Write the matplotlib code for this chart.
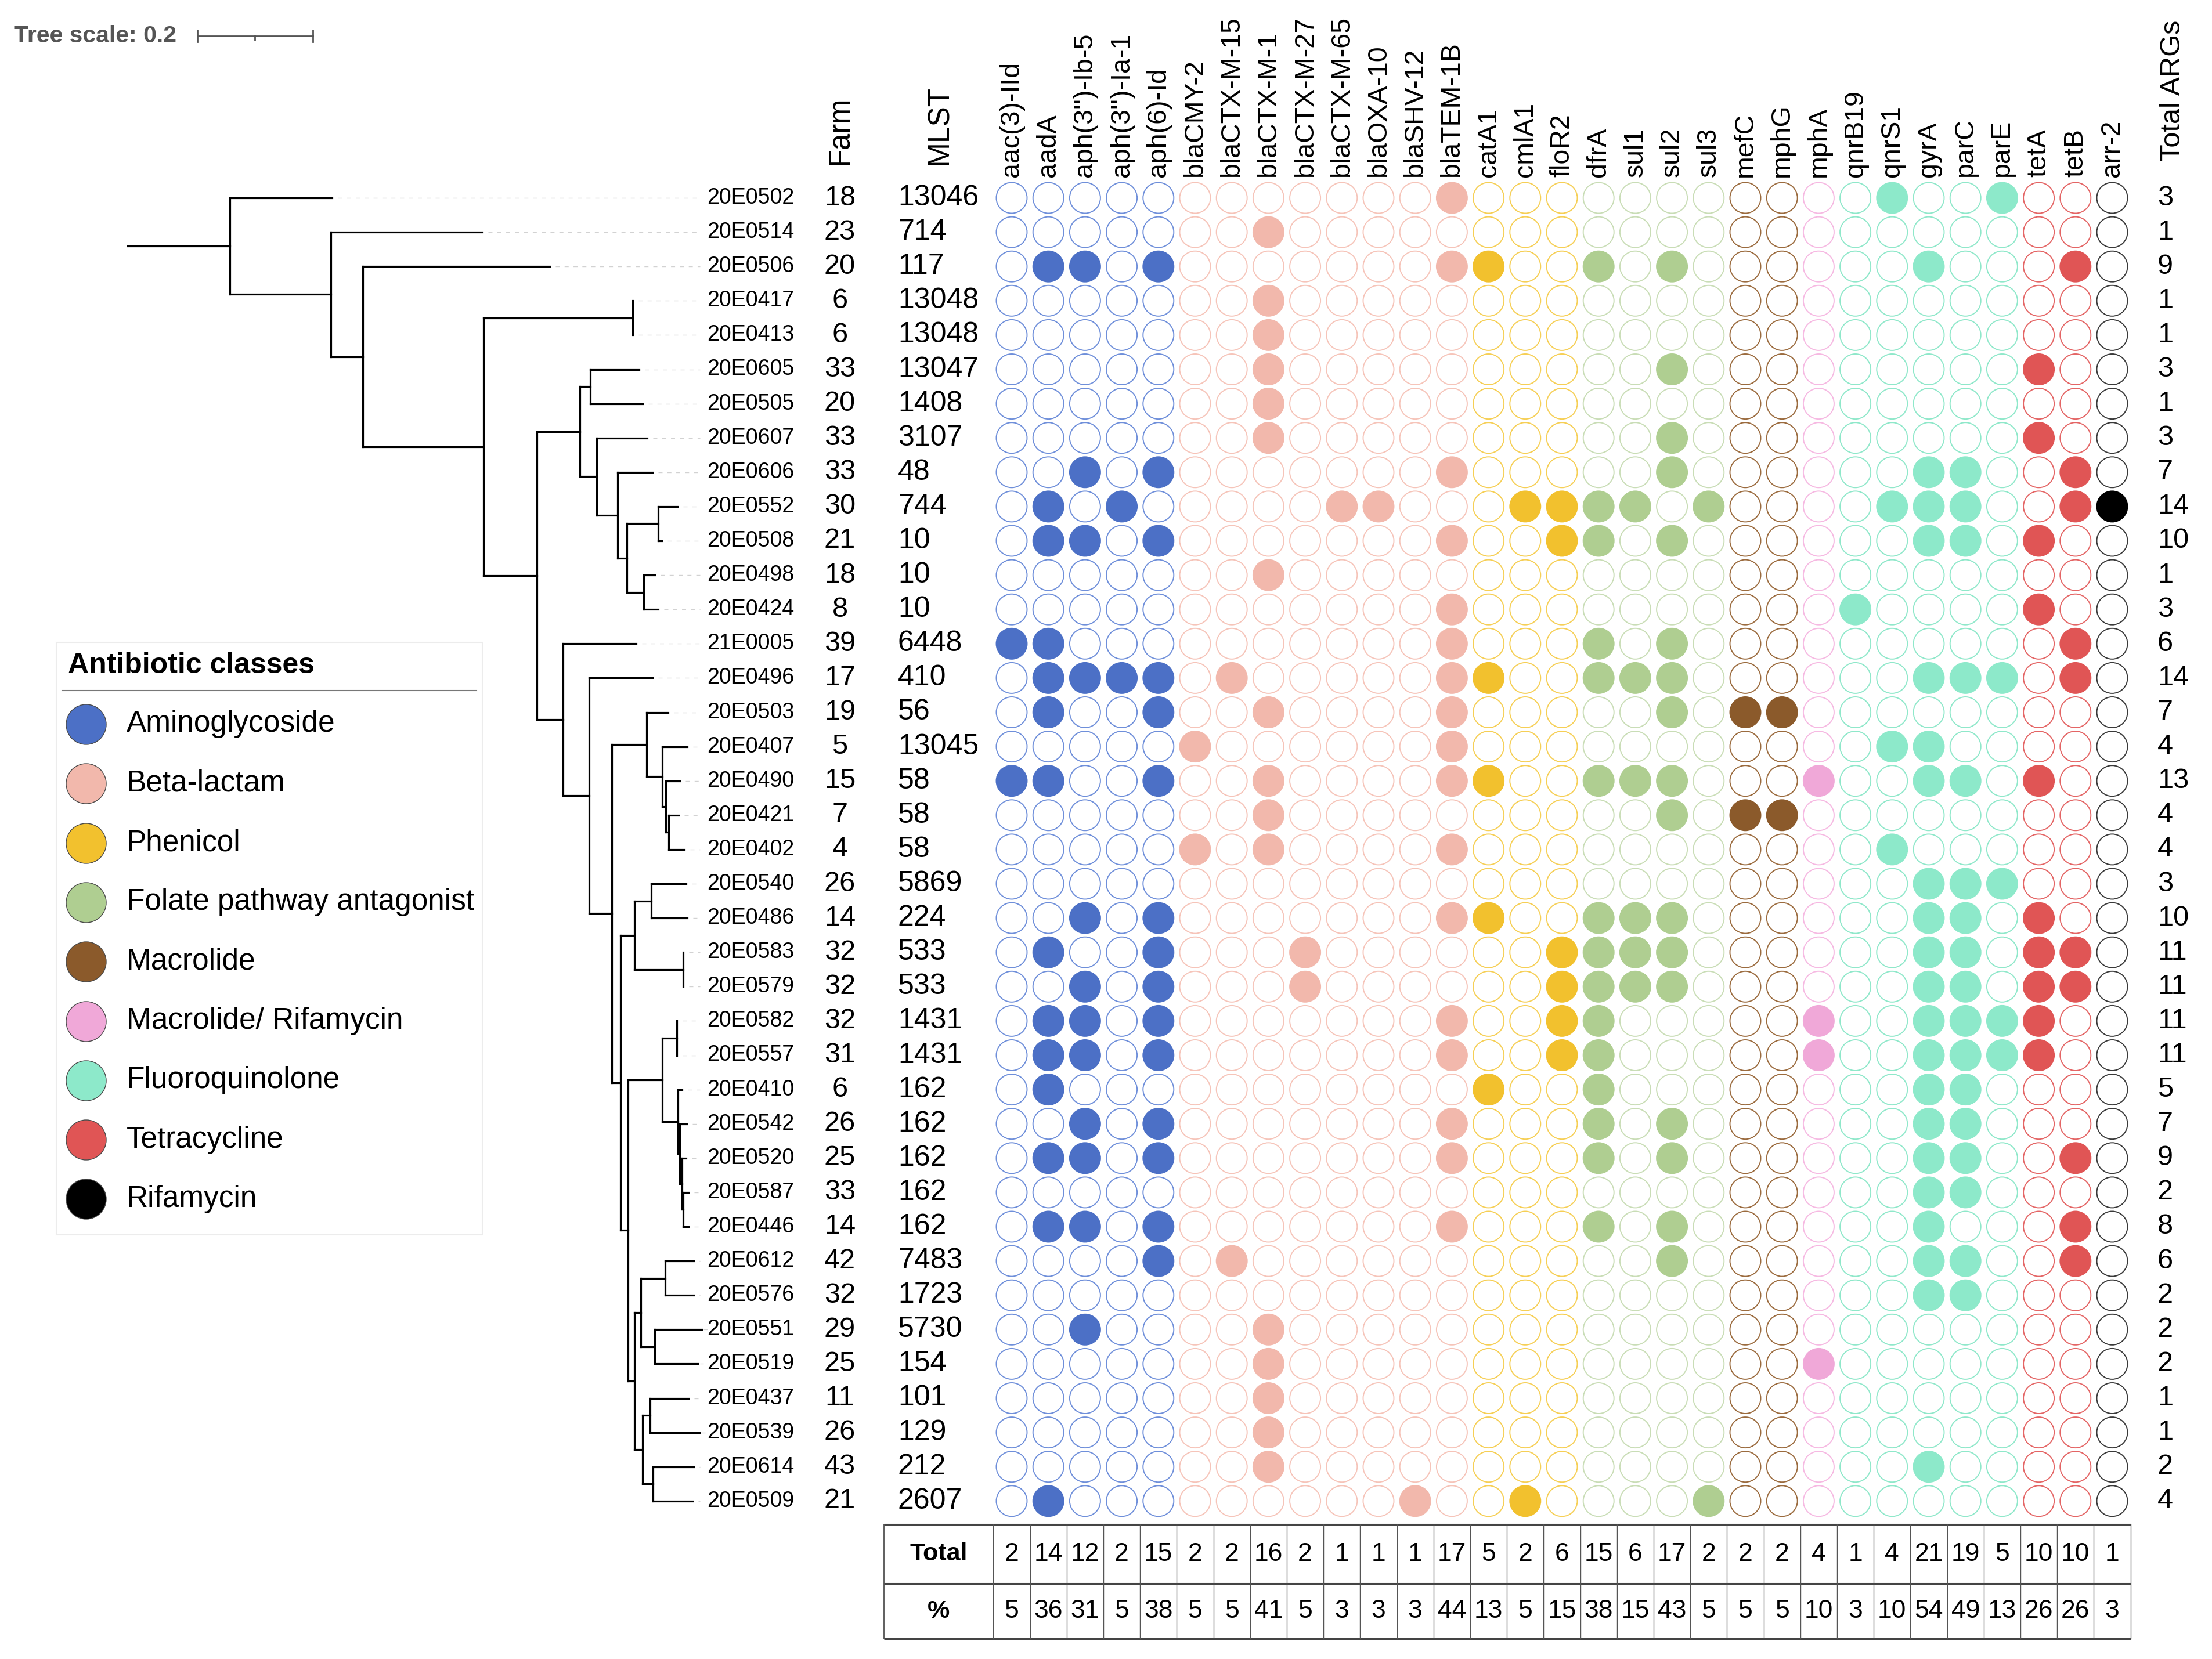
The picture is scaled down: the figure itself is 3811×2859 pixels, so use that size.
import matplotlib
matplotlib.use("Agg")
import matplotlib.pyplot as plt
from matplotlib.collections import LineCollection
from matplotlib.patches import Rectangle

# ---------------- data ----------------
tree_newick = (
    "(20E0502:0.1769,(20E0514:0.2623,(20E0506:0.3236,((20E0417:0,20E0413:0):0.2583,"
    "(((20E0605:0.0844,20E0505:0.0905):0.0181,(20E0607:0.0874,(20E0606:0.0603,"
    "((20E0552:0.0332,20E0508:0.0060):0.0543,(20E0498:0.0191,20E0424:0.0251):0.0291)"
    ":0.0161):0.0362):0.0291):0.0744,(21E0005:0.1266,(20E0496:0.1095,((20E0503:0.0372,"
    "(20E0407:0.0432,(20E0490:0.0241,(20E0421:0.0171,20E0402:0.0271):0.0050):0.0060)"
    ":0.0271):0.0603,(((20E0540:0.0603,20E0486:0.0623):0.0291,(20E0583:0,20E0579:0)"
    ":0.0844):0.0241,(((20E0582:0,20E0557:0):0.0251,(20E0410:0.0070,(20E0542:0.0121,"
    "(20E0520:0.0070,(20E0587:0.0090,20E0446:0.0090):0.0020):0.0040):0.0030):0.0271)"
    ":0.0593,(((20E0612:0.0492,20E0576:0.0492):0.0422,(20E0551:0.0814,20E0519:0.0744)"
    ":0.0241):0.0111,((20E0437:0.0663,20E0539:0.0854):0.0131,(20E0614:0.0704,"
    "20E0509:0.0683):0.0181):0.0141):0.0111):0.0131):0.0151):0.0392):0.0452):0.0452)"
    ":0.0925):0.2090):0.0553):0.1749):0.1769;"
)

strains = ["20E0502", "20E0514", "20E0506", "20E0417", "20E0413", "20E0605", "20E0505",
           "20E0607", "20E0606", "20E0552", "20E0508", "20E0498", "20E0424", "21E0005",
           "20E0496", "20E0503", "20E0407", "20E0490", "20E0421", "20E0402", "20E0540",
           "20E0486", "20E0583", "20E0579", "20E0582", "20E0557", "20E0410", "20E0542",
           "20E0520", "20E0587", "20E0446", "20E0612", "20E0576", "20E0551", "20E0519",
           "20E0437", "20E0539", "20E0614", "20E0509"]
farms = [18, 23, 20, 6, 6, 33, 20, 33, 33, 30, 21, 18, 8, 39, 17, 19, 5, 15, 7, 4,
         26, 14, 32, 32, 32, 31, 6, 26, 25, 33, 14, 42, 32, 29, 25, 11, 26, 43, 21]
mlst = [13046, 714, 117, 13048, 13048, 13047, 1408, 3107, 48, 744, 10, 10, 10, 6448,
        410, 56, 13045, 58, 58, 58, 5869, 224, 533, 533, 1431, 1431, 162, 162, 162,
        162, 162, 7483, 1723, 5730, 154, 101, 129, 212, 2607]
total_args = [3, 1, 9, 1, 1, 3, 1, 3, 7, 14, 10, 1, 3, 6, 14, 7, 4, 13, 4, 4,
              3, 10, 11, 11, 11, 11, 5, 7, 9, 2, 8, 6, 2, 2, 2, 1, 1, 2, 4]

genes = ["aac(3)-IId", "aadA", "aph(3'')-Ib-5", "aph(3'')-Ia-1", "aph(6)-Id",
         "blaCMY-2", "blaCTX-M-15", "blaCTX-M-1", "blaCTX-M-27", "blaCTX-M-65",
         "blaOXA-10", "blaSHV-12", "blaTEM-1B", "catA1", "cmlA1", "floR2",
         "dfrA", "sul1", "sul2", "sul3", "mefC", "mphG", "mphA", "qnrB19", "qnrS1",
         "gyrA", "parC", "parE", "tetA", "tetB", "arr-2"]
gene_class = [0] * 5 + [1] * 8 + [2] * 3 + [3] * 4 + [4] * 2 + [5] + [6] * 5 + [7] * 2 + [8]

classes = ["Aminoglycoside", "Beta-lactam", "Phenicol", "Folate pathway antagonist",
           "Macrolide", "Macrolide/ Rifamycin", "Fluoroquinolone", "Tetracycline",
           "Rifamycin"]
class_fill = ["#4C70C6", "#F2B8AC", "#F2C12E", "#AFCE91", "#8B5A2B",
              "#F0A8D8", "#8DE9CA", "#E05555", "#000000"]
class_edge = ["#6F8FDA", "#F6C4B9", "#F6CF55", "#C9DDB6", "#9B6B3E",
              "#F6B9E2", "#8FE8CA", "#E46565", "#3A3A3A"]

present = {
    "20E0502": ["blaTEM-1B", "qnrS1", "parE"],
    "20E0514": ["blaCTX-M-1"],
    "20E0506": ["aadA", "aph(3'')-Ib-5", "aph(6)-Id", "blaTEM-1B", "catA1", "dfrA", "sul2", "gyrA", "tetB"],
    "20E0417": ["blaCTX-M-1"],
    "20E0413": ["blaCTX-M-1"],
    "20E0605": ["blaCTX-M-1", "sul2", "tetA"],
    "20E0505": ["blaCTX-M-1"],
    "20E0607": ["blaCTX-M-1", "sul2", "tetA"],
    "20E0606": ["aph(3'')-Ib-5", "aph(6)-Id", "blaTEM-1B", "sul2", "gyrA", "parC", "tetB"],
    "20E0552": ["aadA", "aph(3'')-Ia-1", "blaCTX-M-65", "blaOXA-10", "cmlA1", "floR2", "dfrA",
                "sul1", "sul3", "qnrS1", "gyrA", "parC", "tetB", "arr-2"],
    "20E0508": ["aadA", "aph(3'')-Ib-5", "aph(6)-Id", "blaTEM-1B", "floR2", "dfrA", "sul2",
                "gyrA", "parC", "tetA"],
    "20E0498": ["blaCTX-M-1"],
    "20E0424": ["blaTEM-1B", "qnrB19", "tetA"],
    "21E0005": ["aac(3)-IId", "aadA", "blaTEM-1B", "dfrA", "sul2", "tetB"],
    "20E0496": ["aadA", "aph(3'')-Ib-5", "aph(3'')-Ia-1", "aph(6)-Id", "blaCTX-M-15", "blaTEM-1B",
                "catA1", "dfrA", "sul1", "sul2", "gyrA", "parC", "parE", "tetB"],
    "20E0503": ["aadA", "aph(6)-Id", "blaCTX-M-1", "blaTEM-1B", "sul2", "mefC", "mphG"],
    "20E0407": ["blaCMY-2", "blaTEM-1B", "qnrS1", "gyrA"],
    "20E0490": ["aac(3)-IId", "aadA", "aph(6)-Id", "blaCTX-M-1", "blaTEM-1B", "catA1", "dfrA",
                "sul1", "sul2", "mphA", "gyrA", "parC", "tetA"],
    "20E0421": ["blaCTX-M-1", "sul2", "mefC", "mphG"],
    "20E0402": ["blaCMY-2", "blaCTX-M-1", "blaTEM-1B", "qnrS1"],
    "20E0540": ["gyrA", "parC", "parE"],
    "20E0486": ["aph(3'')-Ib-5", "aph(6)-Id", "blaTEM-1B", "catA1", "dfrA", "sul1", "sul2",
                "gyrA", "parC", "tetA"],
    "20E0583": ["aadA", "aph(6)-Id", "blaCTX-M-27", "floR2", "dfrA", "sul1", "sul2", "gyrA",
                "parC", "tetA", "tetB"],
    "20E0579": ["aph(3'')-Ib-5", "aph(6)-Id", "blaCTX-M-27", "floR2", "dfrA", "sul1", "sul2",
                "gyrA", "parC", "tetA", "tetB"],
    "20E0582": ["aadA", "aph(3'')-Ib-5", "aph(6)-Id", "blaTEM-1B", "floR2", "dfrA", "mphA",
                "gyrA", "parC", "parE", "tetA"],
    "20E0557": ["aadA", "aph(3'')-Ib-5", "aph(6)-Id", "blaTEM-1B", "floR2", "dfrA", "mphA",
                "gyrA", "parC", "parE", "tetA"],
    "20E0410": ["aadA", "catA1", "dfrA", "gyrA", "parC"],
    "20E0542": ["aph(3'')-Ib-5", "aph(6)-Id", "blaTEM-1B", "dfrA", "sul2", "gyrA", "parC"],
    "20E0520": ["aadA", "aph(3'')-Ib-5", "aph(6)-Id", "blaTEM-1B", "dfrA", "sul2", "gyrA",
                "parC", "tetB"],
    "20E0587": ["gyrA", "parC"],
    "20E0446": ["aadA", "aph(3'')-Ib-5", "aph(6)-Id", "blaTEM-1B", "dfrA", "sul2", "gyrA", "tetB"],
    "20E0612": ["aph(6)-Id", "blaCTX-M-15", "sul2", "gyrA", "parC", "tetB"],
    "20E0576": ["gyrA", "parC"],
    "20E0551": ["aph(3'')-Ib-5", "blaCTX-M-1"],
    "20E0519": ["blaCTX-M-1", "mphA"],
    "20E0437": ["blaCTX-M-1"],
    "20E0539": ["blaCTX-M-1"],
    "20E0614": ["blaCTX-M-1", "gyrA"],
    "20E0509": ["aadA", "blaSHV-12", "cmlA1", "sul3"],
}

col_totals = [2, 14, 12, 2, 15, 2, 2, 16, 2, 1, 1, 1, 17, 5, 2, 6, 15, 6, 17, 2, 2, 2,
              4, 1, 4, 21, 19, 5, 10, 10, 1]
col_pct = [5, 36, 31, 5, 38, 5, 5, 41, 5, 3, 3, 3, 44, 13, 5, 15, 38, 15, 43, 5, 5, 5,
           10, 3, 10, 54, 49, 13, 26, 26, 3]
tree_scale = 0.2

# ---------------- layout (pixels) ----------------
W, H = 3812, 2859
ROW0, DROW = 341, 59.1
COL0, DCOL = 1743, 63.2
TREE_X0, PX_PER_UNIT = 220, 995
DOT = 53 * 0.72  # marker diameter in points
SANS = ["Liberation Sans", "DejaVu Sans"]
NARROW = ["Liberation Sans Narrow", "Liberation Sans", "DejaVu Sans"]


def parse_newick(s):
    pos = 0

    def node():
        nonlocal pos
        children = []
        if s[pos] == "(":
            pos += 1
            while True:
                children.append(node())
                if s[pos] == ",":
                    pos += 1
                else:
                    pos += 1  # ')'
                    break
        start = pos
        while s[pos] not in ":,);":
            pos += 1
        name = s[start:pos]
        length = 0.0
        if s[pos] == ":":
            pos += 1
            start = pos
            while s[pos] not in ",);":
                pos += 1
            length = float(s[start:pos])
        return {"name": name, "len": length, "children": children}

    return node()


root = parse_newick(tree_newick)
leaf_order = []


def layout(nd, parent_x):
    nd["px"] = parent_x
    nd["x"] = parent_x + nd["len"]
    if not nd["children"]:
        nd["y"] = len(leaf_order)
        leaf_order.append(nd)
    else:
        for ch in nd["children"]:
            layout(ch, nd["x"])
        nd["y"] = (nd["children"][0]["y"] + nd["children"][-1]["y"]) / 2


layout(root, 0.0)
assert [n["name"] for n in leaf_order] == strains


def tx(v):
    return TREE_X0 + v * PX_PER_UNIT


def ry(i):
    return ROW0 + i * DROW


fig = plt.figure(figsize=(W / 100, H / 100), dpi=100)
ax = fig.add_axes([0, 0, 1, 1])
ax.set_xlim(0, W)
ax.set_ylim(H, 0)
ax.axis("off")

# ---------------- tree ----------------
segs = []


def collect(nd):
    segs.append([(tx(nd["px"]), ry(nd["y"])), (tx(nd["x"]), ry(nd["y"]))])
    if nd["children"]:
        segs.append([(tx(nd["x"]), ry(nd["children"][0]["y"])),
                     (tx(nd["x"]), ry(nd["children"][-1]["y"]))])
        for ch in nd["children"]:
            collect(ch)


collect(root)
ax.add_collection(LineCollection(segs, colors="black", linewidths=2.3,
                                 capstyle="projecting"))

LABEL_X = 1218
for i, nd in enumerate(leaf_order):
    ax.plot([tx(nd["x"]) + 10, LABEL_X - 12], [ry(i), ry(i)], color="#d2d2d2",
            lw=1.0, dashes=(5, 6))
    ax.text(LABEL_X, ry(i), nd["name"], ha="left", va="center", fontsize=27,
            family=SANS)

# tree scale
ax.text(24, 62, "Tree scale: %g" % tree_scale, ha="left", va="center", fontsize=29.5,
        fontweight="bold", color="#555555", family=SANS)
sb0, sb1 = 340, 340 + tree_scale * PX_PER_UNIT
ax.plot([sb0, sb1], [62, 62], color="#555555", lw=2)
ax.plot([sb0, sb0], [52, 72], color="#555555", lw=2)
ax.plot([sb1, sb1], [52, 72], color="#555555", lw=2)
ax.plot([(sb0 + sb1) / 2] * 2, [62, 69], color="#555555", lw=2)

# ---------------- metadata columns ----------------
FARM_X, MLST_X, TOT_X = 1447, 1547, 3717
ax.text(FARM_X, 284, "Farm", rotation=90, ha="center", va="bottom", fontsize=36.5, family=SANS)
ax.text(MLST_X + 72, 284, "MLST", rotation=90, ha="center", va="bottom", fontsize=37, family=SANS)
ax.text(3744, 278, "Total ARGs", rotation=90, ha="center", va="bottom", fontsize=35, family=SANS)
for i in range(len(strains)):
    ax.text(FARM_X, ry(i), str(farms[i]), ha="center", va="center", fontsize=35, family=SANS)
    ax.text(MLST_X, ry(i), str(mlst[i]), ha="left", va="center", fontsize=36, family=SANS)
    ax.text(TOT_X, ry(i), str(total_args[i]), ha="left", va="center", fontsize=35, family=SANS)

# ---------------- gene dot matrix ----------------
for j, g in enumerate(genes):
    x = COL0 + j * DCOL
    ax.text(x, 305, g, rotation=90, ha="center", va="bottom", fontsize=33.5, family=SANS)
    c = gene_class[j]
    xs, ys, fc, ec = [], [], [], []
    for i, s in enumerate(strains):
        on = g in present[s]
        xs.append(x)
        ys.append(ry(i))
        fc.append(class_fill[c] if on else "white")
        ec.append(class_fill[c] if on else class_edge[c])
    ax.scatter(xs, ys, s=DOT ** 2, facecolors=fc, edgecolors=ec, linewidths=1.4, zorder=3)

# ---------------- legend ----------------
ax.add_patch(Rectangle((97, 1107), 734, 1021, facecolor="white", edgecolor="#ececec", lw=1.5))
ax.text(117, 1147, "Antibiotic classes", ha="left", va="center", fontsize=36,
        fontweight="bold", family=SANS)
ax.plot([107, 821], [1190, 1190], color="#777777", lw=1.5)
for k, name in enumerate(classes):
    y = 1248 + k * 102.3
    ax.scatter([148], [y], s=(69 * 0.72) ** 2, facecolors=class_fill[k],
               edgecolors="#4a4a4a", linewidths=1.0, zorder=3)
    ax.text(218, y, name, ha="left", va="center", fontsize=37, family=SANS)

# ---------------- totals table ----------------
T_TOP, T_MID, T_BOT = 2627, 2729, 2824
T_LEFT = 1523
t_right = COL0 + (len(genes) - 0.5) * DCOL
for yy in (T_TOP, T_MID, T_BOT):
    ax.plot([T_LEFT, t_right], [yy, yy], color="#444444", lw=2.2, solid_capstyle="butt")
ax.plot([T_LEFT, T_LEFT], [T_TOP, T_BOT], color="#444444", lw=1.2)
for j in range(len(genes) + 1):
    xx = COL0 + (j - 0.5) * DCOL
    ax.plot([xx, xx], [T_TOP, T_BOT], color="#555555", lw=1.0)
lab_x = (T_LEFT + COL0 - 0.5 * DCOL) / 2
ax.text(lab_x, (T_TOP + T_MID) / 2, "Total", ha="center", va="center", fontsize=31,
        fontweight="bold", family=NARROW)
ax.text(lab_x, (T_MID + T_BOT) / 2, "%", ha="center", va="center", fontsize=31,
        fontweight="bold", family=NARROW)
for j in range(len(genes)):
    xx = COL0 + j * DCOL
    ax.text(xx, (T_TOP + T_MID) / 2, str(col_totals[j]), ha="center", va="center",
            fontsize=32, family=NARROW)
    ax.text(xx, (T_MID + T_BOT) / 2, str(col_pct[j]), ha="center", va="center",
            fontsize=32, family=NARROW)

fig.savefig("out.png", dpi=100, facecolor="white")
